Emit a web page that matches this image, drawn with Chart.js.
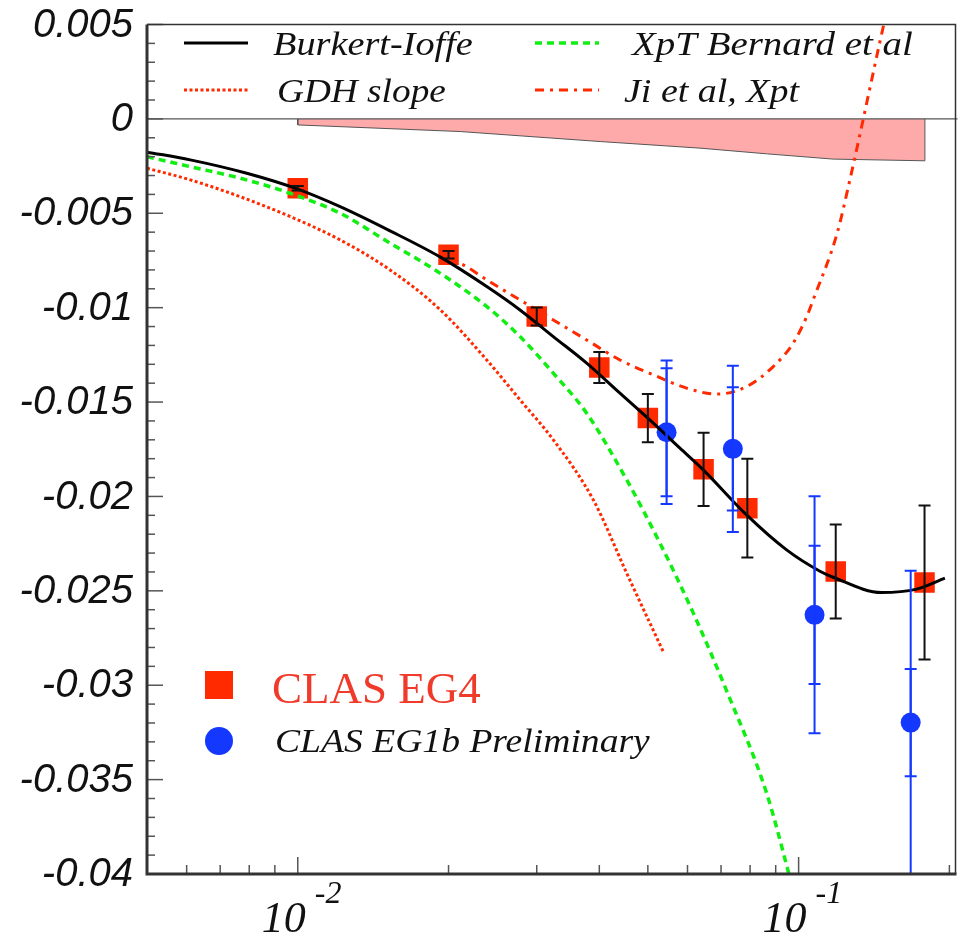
<!DOCTYPE html>
<html>
<head>
<meta charset="utf-8">
<script src="https://cdn.jsdelivr.net/npm/chart.js@4.4.1/dist/chart.umd.min.js"></script>
<style>
  html, body { margin: 0; padding: 0; background: #fff; }
</style>
</head>
<body>
<canvas id="g1Chart" width="959" height="938"></canvas>
<script>
// axis ranges and tick labels
const xRange = [0.005, 0.2057];
const yRange = [-0.04, 0.005];
const yTickVals = [0.005, 0, -0.005, -0.01, -0.015, -0.02, -0.025, -0.03, -0.035, -0.04];
const yTickLabels = ['0.005', '0', '-0.005', '-0.01', '-0.015', '-0.02', '-0.025', '-0.03', '-0.035', '-0.04'];
const xTickVals = [0.01, 0.1];
const xTickExp = ['-2', '-1'];

// CLAS EG4 data
const eg4X = [0.01, 0.02, 0.03, 0.04, 0.05, 0.0646, 0.079, 0.1186, 0.1784];
const eg4Y = [-0.00367, -0.0072, -0.01047, -0.01317, -0.01585, -0.01856, -0.02062, -0.02398, -0.02456];
const eg4Err = [0.00012, 0.0002, 0.00048, 0.00082, 0.00128, 0.00194, 0.00262, 0.00249, 0.00408];

// systematic band (EG4)
const bandX = [0.01, 0.0211, 0.04016, 0.06358, 0.08633, 0.1172, 0.1787];
const bandY = [-0.00032, -0.00067, -0.0012, -0.00155, -0.00185, -0.00213, -0.00222];

// CLAS EG1b preliminary
const eg1bX = [0.0545, 0.0739, 0.1076, 0.1674];
const eg1bY = [-0.0166, -0.01748, -0.02627, -0.03198];
const eg1bStat = [0.00339, 0.00327, 0.00366, 0.00284];
const eg1bTot = [0.0038, 0.0044, 0.00628, 0.00805];

// Burkert-Ioffe
const biX = [0.005, 0.0061, 0.00791, 0.01, 0.01215, 0.01528, 0.01923, 0.02384, 0.02778, 0.03237, 0.03774, 0.04398, 0.05127, 0.05795, 0.06451, 0.07873, 0.09462, 0.1103, 0.1172, 0.1464, 0.172, 0.1959];
const biY = [-0.00176, -0.00217, -0.00288, -0.00372, -0.00465, -0.00593, -0.00731, -0.00888, -0.01012, -0.01153, -0.01294, -0.01453, -0.01612, -0.01744, -0.01859, -0.02098, -0.02283, -0.02396, -0.02428, -0.02509, -0.02491, -0.02433];

// GDH slope
const gdhX = [0.005, 0.0061, 0.00767, 0.00965, 0.01215, 0.01528, 0.01923, 0.02384, 0.02778, 0.03237, 0.03891, 0.04536, 0.05366];
const gdhY = [-0.00261, -0.00323, -0.00412, -0.00517, -0.00641, -0.008, -0.0101, -0.01277, -0.01488, -0.017, -0.02018, -0.02406, -0.02822];

// XpT Bernard et al
const bernX = [0.005, 0.0061, 0.00767, 0.00965, 0.01215, 0.01528, 0.01923, 0.02384, 0.02778, 0.03237, 0.03774, 0.04536, 0.05287, 0.06162, 0.07183, 0.08633, 0.09533, 0.0975];
const bernY = [-0.002, -0.00253, -0.00314, -0.00394, -0.005, -0.00658, -0.00817, -0.00994, -0.01153, -0.01347, -0.01559, -0.01912, -0.02248, -0.02618, -0.0303, -0.03572, -0.03987, -0.0409];

// Ji et al, Xpt
const jiX = [0.02, 0.0214, 0.02384, 0.02778, 0.03237, 0.03774, 0.04398, 0.05127, 0.05975, 0.06861, 0.07873, 0.08899, 0.09754, 0.1038, 0.1069, 0.1194, 0.1266, 0.1326, 0.1388, 0.1453, 0.1494];
const jiY = [-0.0074, -0.00773, -0.00853, -0.00959, -0.01065, -0.01171, -0.01277, -0.01356, -0.01426, -0.01458, -0.01418, -0.01312, -0.01188, -0.01047, -0.00959, -0.00605, -0.00322, -0.00081, 0.00164, 0.00408, 0.0055];

const pts = (xs, ys) => xs.map((x, i) => ({ x: x, y: ys[i] }));

const serif = '"Liberation Serif", "Times New Roman", serif';
const sans = '"Liberation Sans", Arial, sans-serif';
const red = '#ff2a00';
const blue = '#1538ff';
const green = '#11ee11';

const errorBars = {
  id: 'errorBars',
  afterDatasetsDraw(chart) {
    const { ctx, chartArea: a, scales: { x, y } } = chart;
    ctx.save();
    ctx.beginPath();
    ctx.rect(a.left, a.top, a.right - a.left, a.bottom - a.top + 1);
    ctx.clip();
    const bar = (xv, yv, e, color, cap) => {
      const px = x.getPixelForValue(xv);
      const y1 = y.getPixelForValue(yv + e);
      const y2 = y.getPixelForValue(yv - e);
      ctx.strokeStyle = color;
      ctx.lineWidth = 2;
      ctx.beginPath();
      ctx.moveTo(px, y1); ctx.lineTo(px, y2);
      ctx.moveTo(px - cap, y1); ctx.lineTo(px + cap, y1);
      ctx.moveTo(px - cap, y2); ctx.lineTo(px + cap, y2);
      ctx.stroke();
    };
    eg1bX.forEach((xv, i) => {
      bar(xv, eg1bY[i], eg1bTot[i], blue, 6);
      bar(xv, eg1bY[i], eg1bStat[i], blue, 6);
    });
    eg4X.forEach((xv, i) => bar(xv, eg4Y[i], eg4Err[i], '#111', 6));
    ctx.restore();
  }
};

// italic legend text is a bit wider in the original, stretch it sideways
function wideText(ctx, text, x, y, sx) {
  ctx.save();
  ctx.translate(x, y);
  ctx.scale(sx, 1);
  ctx.fillText(text, 0, 0);
  ctx.restore();
}

const decor = {
  id: 'decor',
  afterDraw(chart) {
    const { ctx, chartArea: a, scales: { x, y } } = chart;
    ctx.save();

    // zero line
    const y0 = y.getPixelForValue(0);
    ctx.strokeStyle = '#555';
    ctx.lineWidth = 1.2;
    ctx.beginPath(); ctx.moveTo(a.left, y0); ctx.lineTo(a.right + 2, y0); ctx.stroke();

    // inward ticks, y
    ctx.strokeStyle = '#555';
    ctx.lineWidth = 1.5;
    for (let i = -40; i <= 5; i++) {
      const py = y.getPixelForValue(i / 1000);
      const len = i % 5 === 0 ? 16 : 8;
      ctx.beginPath(); ctx.moveTo(a.left, py); ctx.lineTo(a.left + len, py); ctx.stroke();
    }
    // inward ticks, x (log)
    for (let d = -3; d <= 0; d++) {
      for (let k = 1; k <= 9; k++) {
        const v = k * Math.pow(10, d);
        if (v < xRange[0] || v > xRange[1]) continue;
        const px = x.getPixelForValue(v);
        const len = k === 1 ? 17 : 9;
        ctx.beginPath(); ctx.moveTo(px, a.bottom); ctx.lineTo(px, a.bottom - len); ctx.stroke();
      }
    }

    // frame
    ctx.strokeStyle = '#333';
    ctx.lineWidth = 1.5;
    ctx.beginPath();
    ctx.moveTo(a.left, a.top); ctx.lineTo(a.right, a.top); ctx.lineTo(a.right, a.bottom);
    ctx.stroke();
    ctx.lineWidth = 3;
    ctx.beginPath();
    ctx.moveTo(a.left, a.top); ctx.lineTo(a.left, a.bottom); ctx.lineTo(a.right + 1, a.bottom);
    ctx.stroke();

    // y labels
    ctx.fillStyle = '#111';
    ctx.font = 'italic 40px ' + sans;
    ctx.textAlign = 'right';
    ctx.textBaseline = 'middle';
    yTickVals.forEach((v, i) => {
      ctx.fillText(yTickLabels[i], a.left - 14, y.getPixelForValue(v) + 1);
    });

    // x labels 10^n
    ctx.textBaseline = 'alphabetic';
    xTickVals.forEach((v, i) => {
      const px = x.getPixelForValue(v);
      ctx.font = 'italic 44px ' + serif;
      ctx.textAlign = 'right';
      ctx.fillText('10', px + 8, 932);
      ctx.font = 'italic 32px ' + serif;
      ctx.textAlign = 'left';
      ctx.fillText(xTickExp[i], px + 17, 903);
    });

    // top legend
    const sample = (x1, yy, color, width, dash) => {
      ctx.strokeStyle = color;
      ctx.lineWidth = width;
      ctx.setLineDash(dash);
      ctx.beginPath(); ctx.moveTo(x1, yy); ctx.lineTo(x1 + 64, yy); ctx.stroke();
      ctx.setLineDash([]);
    };
    sample(184, 43, '#000', 3, []);
    sample(184, 90, red, 3, [3, 2.5]);
    sample(535, 43, green, 3.5, [7, 5]);
    sample(535, 90, red, 3, [9, 6, 3, 6]);
    ctx.fillStyle = '#111';
    ctx.font = 'italic 33px ' + serif;
    ctx.textAlign = 'left';
    wideText(ctx, 'Burkert-Ioffe', 273, 55, 1.16);
    wideText(ctx, 'GDH slope', 277, 102, 1.13);
    wideText(ctx, 'XpT Bernard et al', 632, 55, 1.18);
    wideText(ctx, 'Ji et al, Xpt', 624, 102, 1.15);

    // lower legend
    ctx.fillStyle = red;
    ctx.fillRect(205, 671, 28, 28);
    ctx.fillStyle = blue;
    ctx.beginPath(); ctx.arc(219, 741, 14, 0, Math.PI * 2); ctx.fill();
    ctx.fillStyle = '#f03a2a';
    ctx.font = '45px ' + serif;
    ctx.fillText('CLAS EG4', 272, 703);
    ctx.fillStyle = '#111';
    ctx.font = 'italic 33px ' + serif;
    wideText(ctx, 'CLAS EG1b Preliminary', 275, 752, 1.14);

    ctx.restore();
  }
};

const ctx = document.getElementById('g1Chart').getContext('2d');

const curve = (label, xs, ys, color, width, dash, order) => ({
  label: label,
  data: pts(xs, ys),
  showLine: true,
  borderColor: color,
  borderWidth: width,
  borderDash: dash,
  pointRadius: 0,
  cubicInterpolationMode: 'monotone',
  order: order
});

new Chart(ctx, {
  type: 'scatter',
  data: {
    datasets: [
      {
        label: 'band',
        data: [{ x: bandX[0], y: 0 }].concat(pts(bandX, bandY), [{ x: bandX[bandX.length - 1], y: 0 }]),
        showLine: true,
        fill: 'origin',
        backgroundColor: '#ffaaaa',
        borderColor: '#555',
        borderWidth: 1,
        pointRadius: 0,
        tension: 0,
        order: 10
      },
      {
        label: 'CLAS EG4',
        data: pts(eg4X, eg4Y),
        pointStyle: 'rect',
        pointRadius: 14.5,
        backgroundColor: red,
        borderWidth: 0,
        order: 6
      },
      {
        label: 'CLAS EG1b Preliminary',
        data: pts(eg1bX, eg1bY),
        pointStyle: 'circle',
        pointRadius: 10,
        backgroundColor: blue,
        borderWidth: 0,
        order: 5
      },
      curve('GDH slope', gdhX, gdhY, red, 3, [3, 2.5], 4),
      curve('XpT Bernard et al', bernX, bernY, green, 3.5, [7, 5], 3),
      curve('Ji et al, Xpt', jiX, jiY, red, 3, [9, 6, 3, 6], 2),
      curve('Burkert-Ioffe', biX, biY, '#000', 3, [], 1)
    ]
  },
  options: {
    responsive: false,
    animation: false,
    layout: { autoPadding: false, padding: { left: 0, right: 3.5, top: 24.5, bottom: 0 } },
    plugins: {
      legend: { display: false },
      tooltip: { enabled: false }
    },
    scales: {
      x: {
        type: 'logarithmic',
        min: xRange[0],
        max: xRange[1],
        ticks: { display: false },
        grid: { display: false },
        border: { display: false },
        afterFit: (s) => { s.height = 64; }
      },
      y: {
        type: 'linear',
        min: yRange[0],
        max: yRange[1],
        ticks: { display: false },
        grid: { display: false, drawTicks: false },
        border: { display: false },
        afterFit: (s) => { s.width = 147; }
      }
    }
  },
  plugins: [errorBars, decor]
});
</script>
</body>
</html>
